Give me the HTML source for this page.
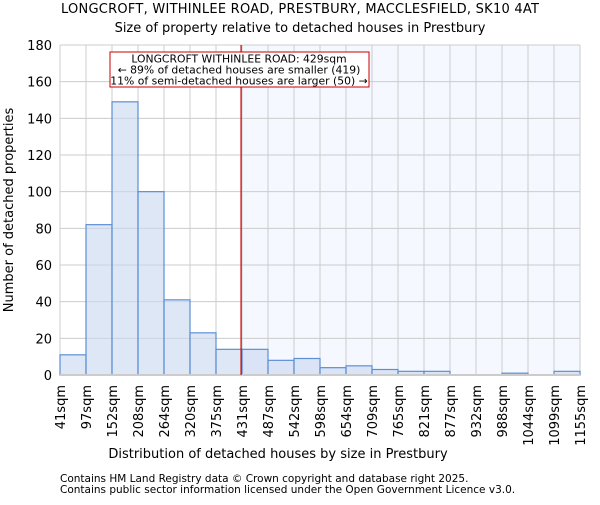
<!DOCTYPE html>
<html><head><meta charset="utf-8"><style>
body{margin:0;background:#fff;}
svg{font-family:"DejaVu Sans","Liberation Sans",sans-serif;}
</style></head><body>
<svg id="chart" width="600" height="500" xmlns="http://www.w3.org/2000/svg">
<text x="300" y="13" text-anchor="middle" font-size="13" textLength="478">LONGCROFT, WITHINLEE ROAD, PRESTBURY, MACCLESFIELD, SK10 4AT</text>
<text x="300" y="32" text-anchor="middle" font-size="13">Size of property relative to detached houses in Prestbury</text>
<g id="plot"></g>
<text x="278" y="458" text-anchor="middle" font-size="13">Distribution of detached houses by size in Prestbury</text>
<text transform="translate(13,210) rotate(-90)" text-anchor="middle" font-size="13">Number of detached properties</text>
<text x="60" y="482" font-size="10.5">Contains HM Land Registry data © Crown copyright and database right 2025.</text>
<text x="60" y="493" font-size="10.5">Contains public sector information licensed under the Open Government Licence v3.0.</text>
</svg>
<script>
const binLabels=["41sqm","97sqm","152sqm","208sqm","264sqm","320sqm","375sqm","431sqm","487sqm","542sqm","598sqm","654sqm","709sqm","765sqm","821sqm","877sqm","932sqm","988sqm","1044sqm","1099sqm","1155sqm"];
const binEdges=[41,97,152,208,264,320,375,431,487,542,598,654,709,765,821,877,932,988,1044,1099,1155];
const counts=[11,82,149,100,41,23,14,14,8,9,4,5,3,2,2,0,0,1,0,2];
const yTicks=[0,20,40,60,80,100,120,140,160,180];
const propertySize=429;
const NS="http://www.w3.org/2000/svg";
const X0=60,X1=580,Y0=375,Y1=45,nb=counts.length;
const xi=i=>X0+(X1-X0)*i/nb;
const xv=v=>{for(let i=0;i<binEdges.length-1;i++){if(v<=binEdges[i+1])return xi(i)+(v-binEdges[i])/(binEdges[i+1]-binEdges[i])*(X1-X0)/nb;}return X1;};
const y=v=>Y0-(Y0-Y1)*v/180;
const g=document.getElementById('plot');
function mk(t,a){const e=document.createElementNS(NS,t);for(const k in a)e.setAttribute(k,a[k]);g.appendChild(e);return e;}
const rx=xv(propertySize);
let e=mk('rect',{x:rx,y:Y1,width:X1-rx,height:Y0-Y1,fill:'#f5f8fe'});


yTicks.forEach(t=>{let l=mk('line',{x1:X0,x2:X1,y1:y(t),y2:y(t),stroke:'#cccccc'});


let tx=mk('text',{x:X0-8,y:y(t)+5,'text-anchor':'end','font-size':13});tx.textContent=t;

});
binLabels.forEach((lb,i)=>{let l=mk('line',{x1:xi(i),x2:xi(i),y1:Y1,y2:Y0,stroke:'#cccccc'});


let tx=mk('text',{transform:`translate(${xi(i)+5},${Y0+10}) rotate(-90)`,'text-anchor':'end','font-size':13});tx.textContent=lb;

});
counts.forEach((c,i)=>{if(c<=0)return;let r=mk('rect',{x:xi(i),y:y(c),width:xi(i+1)-xi(i),height:Y0-y(c),fill:'rgba(200,215,240,0.6)',stroke:'#5b8fd6','stroke-width':1.2});

});
let ax=mk('line',{x1:X0,x2:X1,y1:Y0,y2:Y0,stroke:'#cccccc','stroke-width':2});


let ml=mk('line',{x1:rx,x2:rx,y1:Y1,y2:Y0,stroke:'#cc0000','stroke-width':1.2});


let bx=mk('rect',{x:110,y:52,width:259,height:35,fill:'#fff',stroke:'#cc0000','stroke-width':1});


["LONGCROFT WITHINLEE ROAD: 429sqm","← 89% of detached houses are smaller (419)","11% of semi-detached houses are larger (50) →"].forEach((s,i)=>{let t=mk('text',{x:239,y:62.5+i*11,'text-anchor':'middle','font-size':10.8});t.textContent=s;

});
</script>
</body></html>
